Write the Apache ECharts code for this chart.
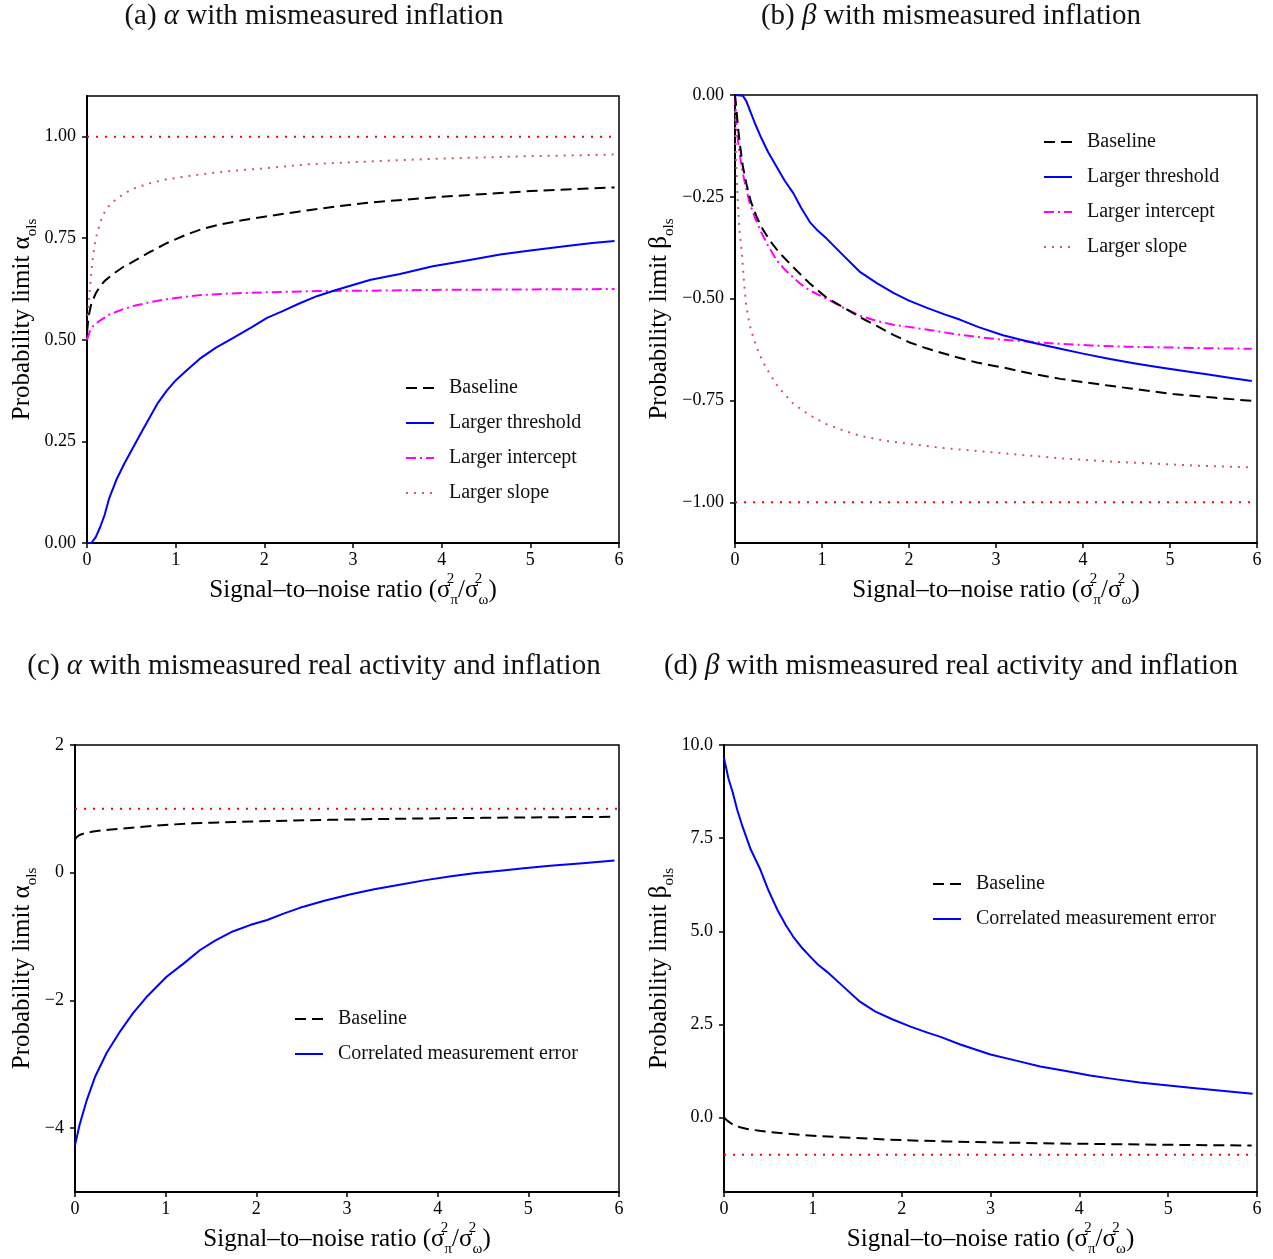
<!DOCTYPE html>
<html>
<head>
<meta charset="utf-8">
<script src="https://cdn.jsdelivr.net/npm/echarts@6/dist/echarts.min.js"></script>
<style>html,body{margin:0;padding:0;background:#fff}#c{width:1273px;height:1259px}</style>
</head>
<body>
<div id="c"></div>
<script>
// ---------- data (x = signal-to-noise ratio, y = probability limit) ----------
const xTicks = [0, 1, 2, 3, 4, 5, 6];
const alphaTicks = [0, 0.25, 0.5, 0.75, 1];
const betaTicks = [-1, -0.75, -0.5, -0.25, 0];
const alphaCorrTicks = [-4, -2, 0, 2];
const betaCorrTicks = [0, 2.5, 5, 7.5, 10];

const alphaBaseline = [[0,0.52],[0.02,0.56],[0.05,0.59],[0.1,0.615],[0.15,0.632],[0.2,0.645],[0.3,0.663],[0.4,0.678],[0.5,0.69],[0.7,0.715],[0.9,0.738],[1.1,0.757],[1.3,0.773],[1.5,0.784],[1.75,0.794],[2.0,0.803],[2.4,0.816],[2.8,0.828],[3.2,0.838],[3.6,0.845],[4.0,0.852],[4.5,0.859],[5.0,0.866],[5.5,0.871],[5.95,0.875]];
const alphaThreshold = [[0,0],[0.05,0],[0.1,0.015],[0.15,0.04],[0.2,0.07],[0.25,0.11],[0.33,0.155],[0.42,0.195],[0.52,0.235],[0.62,0.275],[0.71,0.31],[0.8,0.345],[0.9,0.375],[1.0,0.4],[1.1,0.42],[1.27,0.453],[1.45,0.48],[1.65,0.505],[1.85,0.53],[2.03,0.554],[2.2,0.57],[2.4,0.59],[2.6,0.608],[2.8,0.622],[2.97,0.633],[3.2,0.648],[3.53,0.662],[3.9,0.681],[4.3,0.696],[4.66,0.71],[5.0,0.72],[5.41,0.731],[5.7,0.738],[5.95,0.743]];
const alphaIntercept = [[0,0.5],[0.03,0.52],[0.07,0.534],[0.15,0.548],[0.26,0.563],[0.4,0.575],[0.52,0.583],[0.7,0.592],[0.9,0.6],[1.27,0.61],[1.6,0.614],[2.03,0.617],[2.6,0.62],[3.2,0.621],[4.0,0.623],[5.0,0.624],[5.95,0.625]];
const alphaSlope = [[0,0.5],[0.01,0.56],[0.03,0.62],[0.05,0.67],[0.07,0.71],[0.1,0.75],[0.15,0.79],[0.2,0.815],[0.26,0.833],[0.35,0.85],[0.5,0.87],[0.7,0.885],[0.9,0.895],[1.27,0.907],[1.6,0.915],[2.0,0.922],[2.5,0.932],[3.0,0.937],[3.5,0.942],[4.0,0.946],[4.5,0.949],[5.0,0.952],[5.5,0.954],[5.95,0.956]];
const alphaTrue = [[0,1],[5.98,1]];

const betaBaseline = [[0,0],[0.02,-0.044],[0.04,-0.09],[0.06,-0.127],[0.09,-0.175],[0.13,-0.217],[0.18,-0.26],[0.25,-0.30],[0.32,-0.33],[0.4,-0.357],[0.5,-0.385],[0.67,-0.423],[0.86,-0.463],[1.05,-0.497],[1.25,-0.522],[1.44,-0.546],[1.63,-0.567],[1.82,-0.589],[2.0,-0.607],[2.2,-0.622],[2.5,-0.641],[2.78,-0.657],[3.08,-0.669],[3.4,-0.684],[3.74,-0.697],[4.0,-0.705],[4.31,-0.714],[4.7,-0.725],[5.03,-0.734],[5.5,-0.743],[5.94,-0.751]];
const betaThreshold = [[0,0],[0.09,-0.002],[0.13,-0.015],[0.17,-0.037],[0.23,-0.07],[0.29,-0.10],[0.38,-0.14],[0.48,-0.177],[0.57,-0.21],[0.67,-0.241],[0.76,-0.277],[0.86,-0.312],[0.95,-0.333],[1.05,-0.352],[1.25,-0.395],[1.44,-0.435],[1.63,-0.462],[1.82,-0.486],[2.0,-0.505],[2.2,-0.522],[2.4,-0.538],[2.59,-0.552],[2.8,-0.57],[3.08,-0.59],[3.4,-0.607],[3.74,-0.623],[4.0,-0.635],[4.31,-0.648],[4.6,-0.659],[4.89,-0.669],[5.2,-0.679],[5.46,-0.687],[5.7,-0.695],[5.94,-0.702]];
const betaIntercept = [[0,0],[0.02,-0.086],[0.05,-0.14],[0.09,-0.192],[0.13,-0.232],[0.17,-0.266],[0.23,-0.302],[0.29,-0.332],[0.38,-0.37],[0.48,-0.406],[0.57,-0.428],[0.67,-0.448],[0.76,-0.465],[0.86,-0.48],[1.05,-0.5],[1.25,-0.523],[1.44,-0.542],[1.63,-0.555],[1.82,-0.564],[2.2,-0.576],[2.5,-0.586],[2.78,-0.594],[3.08,-0.601],[3.4,-0.606],[3.74,-0.611],[4.1,-0.615],[4.5,-0.618],[5.0,-0.62],[5.5,-0.622],[5.94,-0.623]];
const betaSlope = [[0,0],[0.01,-0.15],[0.03,-0.25],[0.05,-0.33],[0.08,-0.39],[0.1,-0.45],[0.13,-0.52],[0.18,-0.575],[0.25,-0.62],[0.32,-0.655],[0.4,-0.685],[0.5,-0.718],[0.67,-0.758],[0.85,-0.785],[1.05,-0.808],[1.25,-0.824],[1.44,-0.837],[1.7,-0.848],[2.01,-0.857],[2.4,-0.867],[2.78,-0.874],[3.2,-0.882],[3.74,-0.892],[4.3,-0.9],[4.89,-0.906],[5.4,-0.911],[5.92,-0.914]];
const betaTrue = [[0,-1],[5.98,-1]];

const alphaCorrelated = [[0,-4.27],[0.05,-3.95],[0.13,-3.56],[0.22,-3.2],[0.35,-2.82],[0.5,-2.48],[0.64,-2.2],[0.8,-1.93],[1.01,-1.63],[1.2,-1.42],[1.38,-1.21],[1.55,-1.06],[1.74,-0.92],[1.93,-0.82],[2.12,-0.74],[2.3,-0.64],[2.48,-0.55],[2.75,-0.44],[3.03,-0.34],[3.3,-0.26],[3.58,-0.19],[3.85,-0.12],[4.13,-0.06],[4.4,-0.01],[4.69,0.03],[4.95,0.07],[5.24,0.11],[5.6,0.15],[5.95,0.19]];
const betaCorrelated = [[0,9.65],[0.01,9.54],[0.05,9.1],[0.1,8.71],[0.15,8.25],[0.21,7.8],[0.3,7.2],[0.41,6.65],[0.5,6.1],[0.6,5.58],[0.7,5.15],[0.78,4.85],[0.88,4.55],[0.97,4.32],[1.06,4.1],[1.16,3.91],[1.35,3.5],[1.53,3.11],[1.7,2.85],[1.9,2.63],[2.1,2.44],[2.29,2.28],[2.43,2.17],[2.66,1.96],[3.0,1.69],[3.3,1.52],[3.56,1.37],[3.85,1.25],[4.12,1.13],[4.4,1.03],[4.68,0.94],[4.95,0.87],[5.25,0.8],[5.6,0.72],[5.95,0.64]];

const legendA = ['Baseline', 'Larger threshold', 'Larger intercept', 'Larger slope'];
const legendC = ['Baseline', 'Correlated measurement error'];

// ---------- styles ----------
const FONT = '"Liberation Serif", "DejaVu Serif", serif';
const S = {
  baseline: { color: '#000000', width: 2, type: [11, 6] },
  threshold: { color: '#0000ff', width: 2, type: 'solid' },
  intercept: { color: '#ff00ff', width: 2, type: [10, 4, 2, 4] },
  slope: { color: '#cd5c5c', width: 2, type: [2, 6] },
  truth: { color: '#ff0000', width: 2, type: [2, 7] }
};

function minus(s) { return s.replace('-', '\u2212'); }

const xAxisNameRich = 'Signal\u2013to\u2013noise ratio (\u03c3{sup|2}{sub|\u03c0}/\u03c3{sup|2}{sub|\u03c9})';
const nameRich = {
  sup: { fontFamily: FONT, fontSize: 15, color: '#000', lineHeight: 16, verticalAlign: 'top', width: 0 },
  sub: { fontFamily: FONT, fontSize: 15, color: '#000', lineHeight: 16, verticalAlign: 'bottom' }
};

function xAxis(gridIndex) {
  return {
    type: 'value', gridIndex, min: 0, max: 6, interval: 1,
    name: xAxisNameRich, nameLocation: 'middle', nameGap: 29,
    nameTextStyle: { fontFamily: FONT, fontSize: 25, color: '#000', lineHeight: 36, rich: nameRich },
    axisLine: { show: true, onZero: false, lineStyle: { color: '#000', width: 2 } },
    axisTick: { show: true, inside: false, length: 5, lineStyle: { color: '#000', width: 1.5 } },
    axisLabel: { fontFamily: FONT, fontSize: 18, color: '#000', margin: 8 },
    splitLine: { show: false }
  };
}
function yAxis(gridIndex, min, max, ticks, fmt, nameGap, greek) {
  return {
    type: 'value', gridIndex, min, max,
    name: 'Probability limit ' + greek + '{sub|ols}', nameLocation: 'middle', nameGap, nameRotate: 90,
    nameTextStyle: { fontFamily: FONT, fontSize: 25, color: '#000', lineHeight: 36, rich: nameRich },
    axisLine: { show: true, onZero: false, lineStyle: { color: '#000', width: 2 } },
    axisTick: { show: true, inside: false, length: 5, customValues: ticks, lineStyle: { color: '#000', width: 1.5 } },
    axisLabel: { fontFamily: FONT, fontSize: 18, color: '#000', margin: 11, customValues: ticks, formatter: fmt },
    splitLine: { show: false }
  };
}
function line(name, data, style, xi) {
  return {
    type: 'line', name, data, xAxisIndex: xi, yAxisIndex: xi,
    symbol: 'none', showSymbol: false, smooth: false, animation: false,
    lineStyle: { color: style.color, width: style.width, type: style.type, join: 'round' },
    itemStyle: { color: style.color },
    emphasis: { disabled: true }, silent: true
  };
}
function legend(data, left, top) {
  return {
    data, left, top, orient: 'vertical', padding: 0, itemGap: 15,
    itemWidth: 28, itemHeight: 14, selectedMode: false,
    itemStyle: { color: 'rgba(0,0,0,0)', borderWidth: 0, opacity: 0 },
    textStyle: { fontFamily: FONT, fontSize: 20, lineHeight: 20, color: '#111', padding: [0, 0, 0, 10] }
  };
}
function title(label, greek, rest, left, top) {
  return {
    text: label + ' {i|' + greek + '} ' + rest, left, top, textAlign: 'center', padding: 0,
    textStyle: { fontFamily: FONT, fontSize: 29, fontWeight: 'normal', color: '#111',
      rich: { i: { fontFamily: FONT, fontSize: 29, fontStyle: 'italic', color: '#111' } } }
  };
}

const gridStyle = { show: true, borderColor: '#000', borderWidth: 1.5, backgroundColor: 'transparent', containLabel: false };

const option = {
  animation: false,
  backgroundColor: '#fff',
  title: [
    title('(a)', '\u03b1', 'with mismeasured inflation', 314, 2),
    title('(b)', '\u03b2', 'with mismeasured inflation', 951, 2),
    title('(c)', '\u03b1', 'with mismeasured real activity and inflation', 314, 652),
    title('(d)', '\u03b2', 'with mismeasured real activity and inflation', 951, 652)
  ],
  legend: [
    legend(legendA, 405, 378),
    legend(legendA, 1043, 132),
    legend(legendC, 294, 1009),
    legend(legendC, 932, 874)
  ],
  grid: [
    Object.assign({ left: 87, top: 96, width: 532, height: 447 }, gridStyle),
    Object.assign({ left: 735, top: 95, width: 522, height: 448 }, gridStyle),
    Object.assign({ left: 75, top: 745, width: 544, height: 447 }, gridStyle),
    Object.assign({ left: 724, top: 745, width: 533, height: 447 }, gridStyle)
  ],
  xAxis: [xAxis(0), xAxis(1), xAxis(2), xAxis(3)],
  yAxis: [
    yAxis(0, 0, 1.1, alphaTicks, v => v.toFixed(2), 47, '\u03b1'),
    yAxis(1, -1.1, 0, betaTicks, v => minus(v.toFixed(2)), 58, '\u03b2'),
    yAxis(2, -5, 2, alphaCorrTicks, v => minus(String(v)), 35, '\u03b1'),
    yAxis(3, -2, 10, betaCorrTicks, v => minus(v.toFixed(1)), 47, '\u03b2')
  ],
  series: [
    line('True value', alphaTrue, S.truth, 0),
    line('Larger slope', alphaSlope, S.slope, 0),
    line('Larger intercept', alphaIntercept, S.intercept, 0),
    line('Larger threshold', alphaThreshold, S.threshold, 0),
    line('Baseline', alphaBaseline, S.baseline, 0),

    line('True value', betaTrue, S.truth, 1),
    line('Larger slope', betaSlope, S.slope, 1),
    line('Larger intercept', betaIntercept, S.intercept, 1),
    line('Larger threshold', betaThreshold, S.threshold, 1),
    line('Baseline', betaBaseline, S.baseline, 1),

    line('True value', alphaTrue, S.truth, 2),
    line('Correlated measurement error', alphaCorrelated, S.threshold, 2),
    line('Baseline', alphaBaseline, S.baseline, 2),

    line('True value', betaTrue, S.truth, 3),
    line('Correlated measurement error', betaCorrelated, S.threshold, 3),
    line('Baseline', betaBaseline, S.baseline, 3)
  ]
};

const chart = echarts.init(document.getElementById('c'), null, { renderer: 'canvas' });
chart.setOption(option);
</script>
</body>
</html>
